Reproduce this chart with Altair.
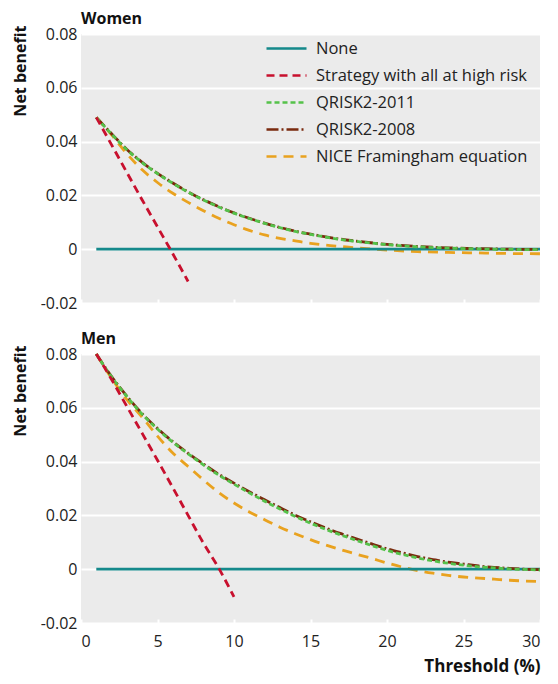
import altair as alt
import pandas as pd

SERIES = ["None", "Strategy with all at high risk", "QRISK2-2011", "QRISK2-2008", "NICE Framingham equation"]
COLORS = ["#15898b", "#c8102e", "#55c24a", "#7a2a0e", "#e9a21f"]
DASHES = [[1, 0], [8, 5], [5, 3], [12, 3, 2, 3], [10, 7]]

# thresholds (%) and net benefit values
none_x = [1, 30]
none_y = [0, 0]

# Women
w_all_x = [1, 2, 3, 4, 5, 6, 7]
w_all_y = [0.049, 0.0388, 0.0285, 0.0183, 0.0083, -0.0017, -0.0120]
w_x = [1, 2, 3, 4, 5, 6, 7, 8, 9, 10, 11, 12, 13, 14, 15, 16, 17, 18, 20, 22, 24, 26, 28, 30]
w_q11 = [0.049, 0.0428, 0.0370, 0.0322, 0.0281, 0.0245, 0.0212, 0.0183, 0.0157, 0.0134,
         0.0114, 0.0096, 0.0080, 0.0066, 0.0055, 0.0045, 0.0036, 0.0029, 0.0017, 0.0009,
         0.0004, 0.0001, -0.0001, -0.0002]
w_q08 = [0.049, 0.0429, 0.0371, 0.0323, 0.0282, 0.0246, 0.0213, 0.0184, 0.0158, 0.0135,
         0.0115, 0.0097, 0.0081, 0.0067, 0.0056, 0.0046, 0.0037, 0.0030, 0.0018, 0.0010,
         0.0005, 0.0002, 0.0000, -0.0001]
w_nice = [0.049, 0.0425, 0.0355, 0.0295, 0.0248, 0.0208, 0.0174, 0.0143, 0.0115, 0.0091,
          0.0070, 0.0053, 0.0040, 0.0031, 0.0022, 0.0015, 0.0010, 0.0005, -0.0003, -0.0009,
          -0.0012, -0.0014, -0.0016, -0.0017]

# Men
m_all_x = [1, 2, 3, 4, 5, 6, 7, 8, 9, 10]
m_all_y = [0.080, 0.0705, 0.0605, 0.0505, 0.0405, 0.0303, 0.0200, 0.0097, 0.0004, -0.0103]
m_x = [1, 2, 3, 4, 5, 6, 7, 8, 9, 10, 11, 12, 13, 14, 15, 16, 17, 18, 19, 20,
       21, 22, 23, 24, 25, 26, 27, 28, 29, 30]
m_q11 = [0.080, 0.0715, 0.0642, 0.0576, 0.0521, 0.0472, 0.0429, 0.0388, 0.0350, 0.0316,
         0.0284, 0.0253, 0.0224, 0.0196, 0.0171, 0.0148, 0.0127, 0.0107, 0.0088, 0.0070,
         0.0055, 0.0042, 0.0031, 0.0022, 0.0015, 0.0009, 0.0005, 0.0001, -0.0001, -0.0003]
m_q08 = [0.080, 0.0716, 0.0643, 0.0578, 0.0523, 0.0474, 0.0431, 0.0391, 0.0353, 0.0320,
         0.0288, 0.0258, 0.0229, 0.0201, 0.0176, 0.0153, 0.0132, 0.0113, 0.0094, 0.0076,
         0.0061, 0.0047, 0.0036, 0.0026, 0.0019, 0.0012, 0.0007, 0.0003, 0.0000, -0.0002]
m_nice = [0.080, 0.0710, 0.0630, 0.0565, 0.0495, 0.0432, 0.0382, 0.0332, 0.0285, 0.0246,
          0.0213, 0.0184, 0.0156, 0.0132, 0.0110, 0.0090, 0.0072, 0.0056, 0.0040, 0.0023,
          0.0008, -0.0005, -0.0015, -0.0023, -0.0029, -0.0033, -0.0037, -0.0041, -0.0044, -0.0046]

FONT = "Open Sans"


def frame(xs, ys, name):
    return pd.DataFrame({"x": xs, "y": ys, "series": name})


def panel(title, nice_y, q08_y, q11_y, all_x, all_y, xs, show_legend, bottom):
    draw = [
        (frame(xs, nice_y, SERIES[4]), SERIES[4]),
        (frame(none_x, none_y, SERIES[0]), SERIES[0]),
        (frame(xs, q08_y, SERIES[3]), SERIES[3]),
        (frame(xs, q11_y, SERIES[2]), SERIES[2]),
        (frame(all_x, all_y, SERIES[1]), SERIES[1]),
    ]
    if bottom:
        xaxis = alt.Axis(values=[0, 5, 10, 15, 20, 25, 30], title="Threshold (%)", grid=False,
                         domain=False, offset=-4, tickSize=4, tickColor="white", tickWidth=2,
                         labelPadding=10, labelFontSize=16, labelFont=FONT, labelColor="#222",
                         titleFont=FONT, titleFontSize=17, titleFontWeight="bold",
                         titleColor="#111", titleAnchor="end", titlePadding=9)
    else:
        xaxis = alt.Axis(values=[0, 5, 10, 15, 20, 25, 30], title=None, labels=False, grid=False,
                         domain=False, offset=-4, tickSize=4, tickColor="white", tickWidth=2)
    yaxis = alt.Axis(values=[-0.02, 0, 0.02, 0.04, 0.06, 0.08], title="Net benefit",
                     ticks=False, domain=False, grid=True, gridColor="white", gridWidth=2,
                     labelPadding=4, labelFontSize=16, labelFont=FONT, labelColor="#222",
                     labelExpr="datum.value == 0 ? '0' : (datum.value < 0 ? '-' + format(-datum.value, '.2f') : format(datum.value, '.2f'))",
                     titleFont=FONT, titleFontSize=16, titleFontWeight="bold", titleColor="#111",
                     titleAngle=-90, titleAlign="right", titleBaseline="top",
                     titleX=-69, titleY=-9)
    if show_legend:
        leg = alt.Legend(title=None, orient="none", legendX=194, legendY=3,
                         symbolType="M-2,0H2", symbolSize=400, symbolStrokeWidth=2.6,
                         labelFont=FONT, labelFontSize=16.5, labelColor="#222", labelLimit=0,
                         labelOffset=18, rowPadding=7, padding=0)
    else:
        leg = None
    layers = []
    for df, name in draw:
        enc = dict(
            x=alt.X("x:Q", scale=alt.Scale(domain=[0, 30], nice=False), axis=xaxis),
            y=alt.Y("y:Q", scale=alt.Scale(domain=[-0.02, 0.08], nice=False, zero=False), axis=yaxis),
            color=alt.Color("series:N", scale=alt.Scale(domain=SERIES, range=COLORS), legend=leg),
            strokeDash=alt.StrokeDash("series:N", scale=alt.Scale(domain=SERIES, range=DASHES), legend=leg),
        )
        layers.append(alt.Chart(df).mark_line(strokeWidth=2.8, interpolate="monotone").encode(**enc))
    return alt.layer(*layers).properties(
        width=459, height=269,
        title=alt.TitleParams(title, anchor="start", frame="group", font=FONT, fontSize=16,
                              fontWeight="bold", color="#111", offset=-2),
    )


women = panel("Women", w_nice, w_q08, w_q11, w_all_x, w_all_y, w_x, True, False)
men = panel("Men", m_nice, m_q08, m_q11, m_all_x, m_all_y, m_x, False, True)

chart = alt.vconcat(women, men, spacing=20).resolve_legend(
    color="independent", strokeDash="independent"
).configure_view(fill="#ebebeb", stroke=None).properties(
    padding={"left": 3, "top": 3, "right": 0, "bottom": 2}, background="white"
)

chart.save("out.html", embed_options={"renderer": "svg", "actions": False})
